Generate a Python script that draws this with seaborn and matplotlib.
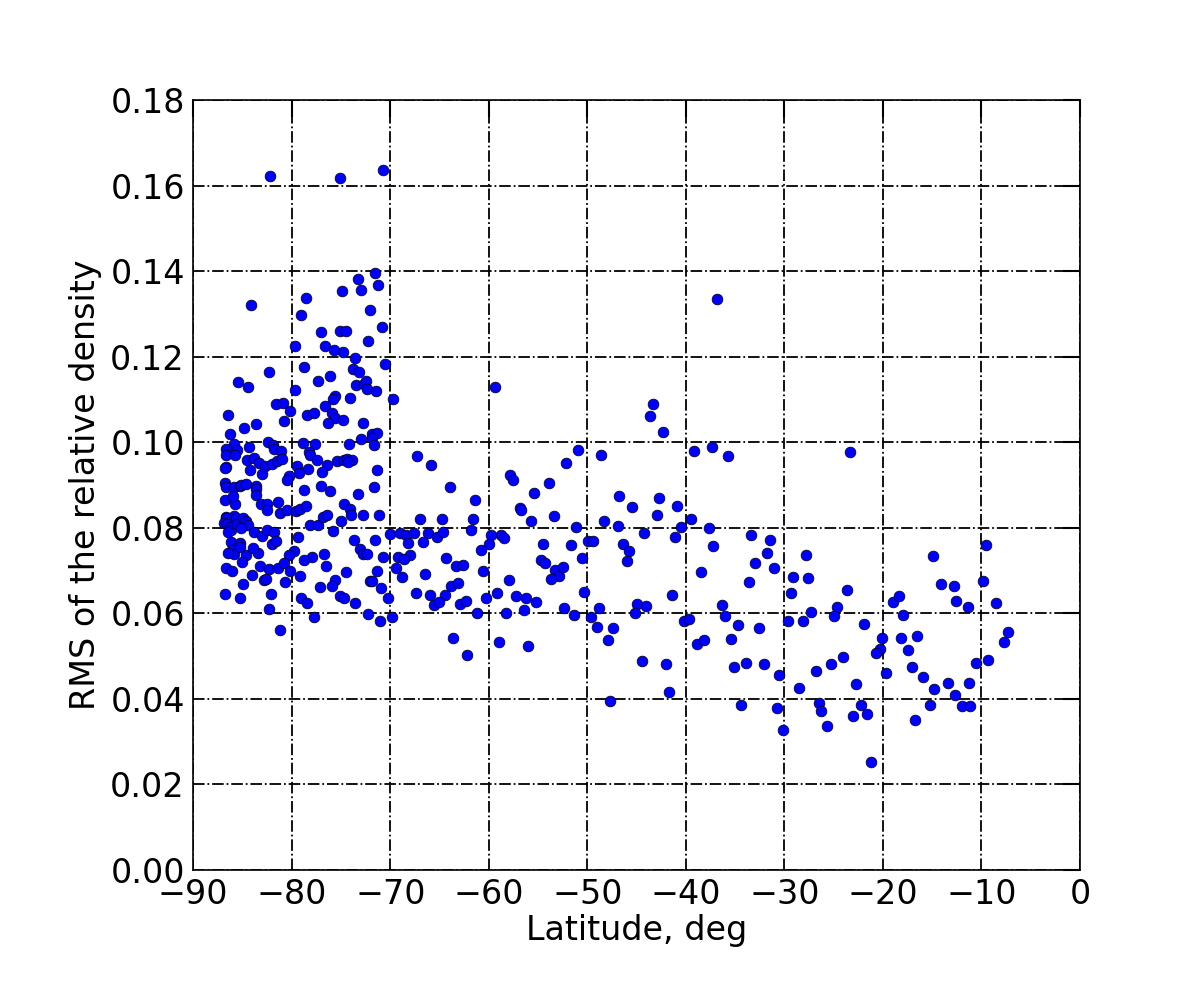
#RMS of relative density vs latitude scatter
import numpy as np
import pandas as pd
import matplotlib
matplotlib.use("Agg")
import matplotlib.pyplot as plt
import seaborn as sns

# values
lat = [
    -70.7, -75.1, -82.2, -71.6, -73.3, -71.2, -73.0, -74.9, -72.1, -70.8,
    -75.1, -74.5, -72.3, -74.8, -73.6, -73.8, -73.2, -70.5, -73.5, -72.7,
    -72.5, -72.4, -71.4, -74.1, -69.7, -78.6, -84.1, -79.1, -77.0, -79.7,
    -76.6, -75.7, -82.3, -78.8, -85.5, -84.4, -79.7, -77.3, -76.1, -75.6,
    -75.8, -81.6, -80.9, -80.2, -76.6, -86.5, -78.5, -77.7, -75.9, -75.6,
    -74.8, -76.3, -80.8, -83.6, -84.8, -86.3, -82.4, -85.9, -84.3, -81.9,
    -81.8, -81.1, -78.9, -77.6, -86.7, -85.6, -86.7, -85.8, -78.2, -78.1,
    -77.4, -75.4, -74.7, -84.5, -83.8, -83.3, -82.7, -82.0, -81.5, -81.0,
    -86.7, -86.8, -84.2, -83.0, -79.5, -78.3, -76.4, -76.9, -79.3, -80.3,
    -80.5, -86.8, -86.7, -85.9, -85.3, -85.1, -84.6, -83.6, -83.6, -83.6,
    -78.8, -77.0, -76.1, -86.8, -85.8, -86.0, -83.1, -82.5, -82.5, -81.4,
    -81.2, -80.5, -79.6, -79.2, -78.6, -74.7, -86.7, -85.9, -86.7, -85.7,
    -86.9, -86.6, -86.3, -86.2, -86.5, -85.6, -84.9, -84.6, -84.4, -85.1,
    -83.8, -83.0, -82.5, -81.8, -82.0, -81.6, -86.2, -85.2, -86.1, -85.9,
    -85.3, -84.6, -83.4, -83.9, -79.4, -79.8, -80.3, -78.1, -77.3, -76.8,
    -76.4, -75.8, -75.0, -76.7, -77.9, -78.8,
    -72.8, -71.9, -71.3, -71.9, -71.7, -73.0, -74.2, -74.4, -73.9, -74.3,
    -71.3, -71.7, -73.3, -74.1, -74.0, -72.8, -71.1, -67.3, -65.9, -63.9,
    -61.4, -67.0, -64.8, -61.6, -61.8, -70.0, -69.0, -68.4, -67.6, -68.2,
    -66.2, -66.7, -65.3, -64.6, -73.7, -71.5, -73.1, -72.8, -72.4, -59.8,
    -60.0, -60.8, -70.7, -69.2, -68.0, -64.3, -68.6,
    -69.4, -68.8, -71.3, -74.5, -72.1, -71.9, -70.9, -70.2, -75.1, -74.7,
    -73.6, -72.3, -71.0, -69.8, -66.5, -63.3, -62.6, -60.6, -67.4, -66.0,
    -64.4, -63.8, -63.1, -65.6, -65.1, -62.9, -62.3, -61.2, -60.3, -63.6,
    -62.2,
    -86.5, -85.0, -86.7, -86.1, -84.9, -84.0, -83.2, -82.3, -82.8, -82.6,
    -81.4, -80.8, -80.2, -80.7, -79.2, -76.5, -75.6, -75.9, -77.1, -86.8,
    -85.3, -82.1, -82.3, -79.1, -78.4, -77.7, -81.2,
    -36.8, -59.4, -43.3, -43.6, -42.3, -50.9, -48.6, -39.2, -37.3, -35.7,
    -52.2, -57.8, -57.5, -53.9, -55.4, -46.8, -42.7, -56.8, -56.7, -45.5,
    -40.9, -55.7, -53.4, -42.9, -39.5, -51.2, -48.3, -46.9, -40.5, -37.7,
    -58.8, -58.5, -44.2, -41.1, -33.4, -31.5, -54.5, -51.7, -49.9, -49.4,
    -46.4, -45.8, -37.2, -31.8,
    -54.7, -54.3, -50.5, -46.0, -58.0, -53.3, -52.9, -52.5, -53.7, -59.2,
    -57.2, -56.2, -55.2, -56.4, -58.3, -52.4, -51.4, -50.3, -59.0, -56.0,
    -49.6, -48.8, -49.0, -47.4, -47.9, -45.0, -44.0, -45.2, -41.4, -44.5,
    -42.0, -41.7, -47.7, -40.2, -39.7, -38.5, -36.3, -36.0, -34.7, -38.9,
    -38.2, -35.4, -35.1, -33.9, -32.1, -30.5, -32.6, -33.6, -33.0, -31.1,
    -29.1, -29.3, -29.6, -34.4, -30.8, -30.1, -28.5,
    -27.8, -27.6, -23.6, -24.7, -25.0, -27.3, -28.1, -21.9, -26.8, -25.3,
    -24.1, -26.5, -26.3, -25.7, -22.7, -23.0, -22.2, -21.6, -21.2, -20.1,
    -20.3, -20.7, -19.7, -19.0, -18.4, -18.0, -18.2, -16.5, -17.5, -17.0,
    -15.9, -14.8, -15.2, -16.7, -14.9, -14.1, -12.8, -12.6, -11.4, -13.4,
    -12.7, -12.0, -11.2, -11.3, -10.6, -9.3, -9.8, -8.5, -7.3, -7.7,
    -23.3, -9.5,
]

rms = [
    0.1636, 0.1617, 0.1622, 0.1395, 0.1381, 0.1367, 0.1355, 0.1353, 0.1308, 0.1269,
    0.1261, 0.1259, 0.1236, 0.1210, 0.1196, 0.1171, 0.1164, 0.1182, 0.1133, 0.1135,
    0.1143, 0.1124, 0.1120, 0.1104, 0.1102, 0.1337, 0.1320, 0.1297, 0.1257, 0.1225,
    0.1225, 0.1215, 0.1163, 0.1175, 0.1141, 0.1128, 0.1123, 0.1143, 0.1154, 0.1108,
    0.1100, 0.1089, 0.1091, 0.1072, 0.1085, 0.1064, 0.1064, 0.1068, 0.1068, 0.1056,
    0.1052, 0.1044, 0.1050, 0.1043, 0.1033, 0.1020, 0.1000, 0.0997, 0.0988, 0.0994,
    0.0983, 0.0979, 0.0999, 0.0997, 0.0983, 0.0981, 0.0969, 0.0970, 0.0976, 0.0969,
    0.0958, 0.0956, 0.0958, 0.0958, 0.0962, 0.0952, 0.0944, 0.0949, 0.0955, 0.0960,
    0.0943, 0.0939, 0.0935, 0.0926, 0.0944, 0.0937, 0.0947, 0.0930, 0.0929, 0.0921,
    0.0912, 0.0904, 0.0896, 0.0895, 0.0897, 0.0901, 0.0902, 0.0898, 0.0890, 0.0877,
    0.0888, 0.0898, 0.0887, 0.0865, 0.0855, 0.0874, 0.0855, 0.0855, 0.0842, 0.0861,
    0.0834, 0.0842, 0.0840, 0.0845, 0.0851, 0.0856, 0.0826, 0.0828, 0.0822, 0.0823,
    0.0812, 0.0808, 0.0802, 0.0795, 0.0791, 0.0810, 0.0823, 0.0816, 0.0806, 0.0800,
    0.0789, 0.0780, 0.0795, 0.0789, 0.0762, 0.0769, 0.0767, 0.0765, 0.0748, 0.0739,
    0.0754, 0.0736, 0.0740, 0.0752, 0.0779, 0.0746, 0.0736, 0.0807, 0.0807, 0.0826,
    0.0829, 0.0792, 0.0817, 0.0738, 0.0731, 0.0725,
    0.1046, 0.1020, 0.1021, 0.1009, 0.0994, 0.1007, 0.0996, 0.0961, 0.0958, 0.0953,
    0.0936, 0.0896, 0.0878, 0.0845, 0.0830, 0.0831, 0.0829, 0.0968, 0.0946, 0.0895,
    0.0866, 0.0821, 0.0821, 0.0821, 0.0794, 0.0785, 0.0787, 0.0783, 0.0787, 0.0764,
    0.0787, 0.0767, 0.0778, 0.0789, 0.0771, 0.0771, 0.0750, 0.0739, 0.0739, 0.0782,
    0.0762, 0.0747, 0.0732, 0.0732, 0.0736, 0.0730, 0.0728,
    0.0707, 0.0685, 0.0700, 0.0696, 0.0676, 0.0675, 0.0659, 0.0637, 0.0641, 0.0635,
    0.0623, 0.0598, 0.0582, 0.0591, 0.0691, 0.0711, 0.0714, 0.0698, 0.0647, 0.0644,
    0.0642, 0.0664, 0.0670, 0.0619, 0.0626, 0.0622, 0.0629, 0.0601, 0.0637, 0.0542,
    0.0502,
    0.0742, 0.0721, 0.0706, 0.0698, 0.0669, 0.0689, 0.0711, 0.0703, 0.0678, 0.0681,
    0.0706, 0.0717, 0.0698, 0.0674, 0.0687, 0.0710, 0.0679, 0.0664, 0.0661, 0.0645,
    0.0635, 0.0645, 0.0609, 0.0635, 0.0623, 0.0591, 0.0561,
    0.1334, 0.1129, 0.1089, 0.1061, 0.1023, 0.0981, 0.0969, 0.0979, 0.0988, 0.0967,
    0.0951, 0.0923, 0.0911, 0.0905, 0.0881, 0.0874, 0.0869, 0.0846, 0.0841, 0.0848,
    0.0852, 0.0816, 0.0827, 0.0829, 0.0820, 0.0802, 0.0816, 0.0803, 0.0802, 0.0799,
    0.0782, 0.0775, 0.0787, 0.0778, 0.0782, 0.0771, 0.0761, 0.0759, 0.0769, 0.0769,
    0.0761, 0.0746, 0.0757, 0.0740,
    0.0724, 0.0718, 0.0729, 0.0722, 0.0677, 0.0701, 0.0688, 0.0708, 0.0680, 0.0648,
    0.0641, 0.0635, 0.0626, 0.0608, 0.0600, 0.0612, 0.0596, 0.0650, 0.0533, 0.0523,
    0.0591, 0.0612, 0.0567, 0.0565, 0.0537, 0.0621, 0.0617, 0.0600, 0.0643, 0.0488,
    0.0481, 0.0415, 0.0394, 0.0582, 0.0587, 0.0696, 0.0619, 0.0593, 0.0572, 0.0528,
    0.0537, 0.0539, 0.0474, 0.0485, 0.0481, 0.0457, 0.0565, 0.0673, 0.0717, 0.0705,
    0.0686, 0.0647, 0.0582, 0.0386, 0.0378, 0.0327, 0.0425,
    0.0736, 0.0682, 0.0654, 0.0615, 0.0593, 0.0602, 0.0581, 0.0575, 0.0465, 0.0482,
    0.0498, 0.0390, 0.0371, 0.0336, 0.0434, 0.0360, 0.0385, 0.0365, 0.0252, 0.0542,
    0.0517, 0.0507, 0.0461, 0.0626, 0.0640, 0.0595, 0.0542, 0.0546, 0.0514, 0.0475,
    0.0451, 0.0423, 0.0385, 0.0350, 0.0733, 0.0668, 0.0663, 0.0630, 0.0614, 0.0436,
    0.0408, 0.0383, 0.0383, 0.0438, 0.0483, 0.0490, 0.0675, 0.0623, 0.0556, 0.0532,
    0.0976, 0.0759,
]

xticks = [-90, -80, -70, -60, -50, -40, -30, -20, -10, 0]
yticks = [0.00, 0.02, 0.04, 0.06, 0.08, 0.10, 0.12, 0.14, 0.16, 0.18]

df = pd.DataFrame({'lat': lat, 'rms': rms})

sns.set_style('white')
plt.rcParams['font.family'] = ['DejaVu Sans']
plt.rcParams['text.color'] = 'black'
plt.rcParams['axes.labelcolor'] = 'black'
plt.rcParams['xtick.color'] = 'black'
plt.rcParams['ytick.color'] = 'black'

fig, ax = plt.subplots(figsize=(12, 10), dpi=100)
fig.subplots_adjust(left=0.161, right=0.9, bottom=0.13, top=0.9)

sns.scatterplot(x='lat', y='rms', data=df, ax=ax, color='blue',
                edgecolor='black', linewidth=0.5, s=60, zorder=3)

ax.set_xlim(-90, 0)
ax.set_ylim(0, 0.18)
ax.set_xticks(xticks)
ax.set_yticks(yticks)
ax.set_yticklabels(['%.2f' % v for v in yticks])
ax.set_xticklabels(['\u2212%d' % abs(v) if v < 0 else '%d' % v for v in xticks])

ax.grid(True, color='black', linestyle='-.', linewidth=1.3)
ax.set_axisbelow(True)
ax.tick_params(direction='in', length=12, width=1.5, top=True, right=True,
               labelsize=24, pad=6)
for sp in ax.spines.values():
    sp.set_color('black')
    sp.set_linewidth(1.2)

ax.set_xlabel('Latitude, deg', fontsize=24, labelpad=2)
ax.set_ylabel('RMS of the relative density', fontsize=24, labelpad=6)

plt.savefig('out.png')
